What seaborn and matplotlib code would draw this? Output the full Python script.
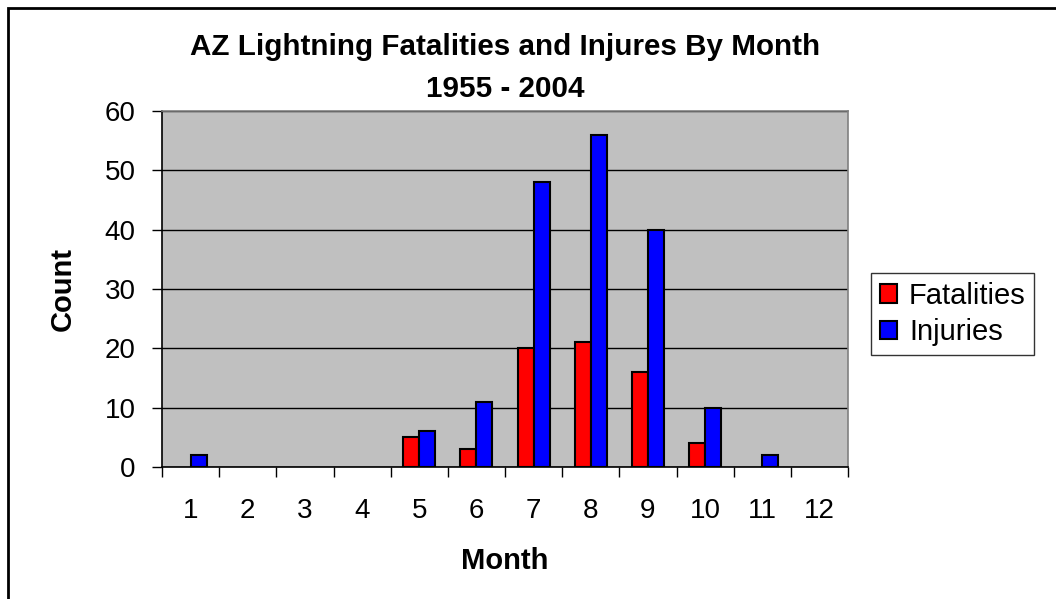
import pandas as pd
import seaborn as sns
import matplotlib.pyplot as plt
from matplotlib.patches import Rectangle

months = [str(m) for m in range(1, 13)]
fatalities = [0, 0, 0, 0, 5, 3, 20, 21, 16, 4, 0, 0]
injuries = [2, 0, 0, 0, 6, 11, 48, 56, 40, 10, 2, 0]

df = pd.concat([
    pd.DataFrame({'Month': months, 'Count': fatalities, 'kind': 'Fatalities'}),
    pd.DataFrame({'Month': months, 'Count': injuries, 'kind': 'Injuries'}),
])

sns.set_style("white")
plt.rcParams['font.family'] = ['Liberation Sans', 'DejaVu Sans']
plt.rcParams['text.color'] = 'black'
plt.rcParams['axes.labelcolor'] = 'black'
plt.rcParams['xtick.color'] = 'black'
plt.rcParams['ytick.color'] = 'black'

fig = plt.figure(figsize=(10.56, 5.99), dpi=100)
ax = fig.add_axes([162 / 1056, 1 - 467 / 599, 686 / 1056, 356 / 599])
ax.set_facecolor('#C0C0C0')

sns.barplot(data=df, x='Month', y='Count', hue='kind', order=months,
            palette=['#FF0000', '#0000FF'], width=0.56, edgecolor='black',
            linewidth=1.5, saturation=1, ax=ax, zorder=3)

# zero-height bars should not leave an outline on the axis
for c in ax.containers:
    for bar in c:
        if bar.get_height() == 0:
            bar.set_visible(False)

ax.set_xlim(-0.5, 11.5)
ax.set_ylim(0, 60)
ax.set_yticks(range(0, 61, 10))
ax.yaxis.grid(True, color='black', linewidth=1, zorder=0)
ax.set_axisbelow(True)

ax.set_xticks([i - 0.5 for i in range(13)], minor=True)
ax.tick_params(axis='x', which='major', length=0, pad=22, labelsize=20)
ax.tick_params(axis='x', which='minor', length=7, width=1, color='black',
               direction='out', bottom=True)
ax.tick_params(axis='y', length=7, width=1, color='black', direction='out',
               left=True, pad=12, labelsize=20)

for s in ['left', 'bottom']:
    ax.spines[s].set_color('black')
    ax.spines[s].set_linewidth(1.2)
for s in ['top', 'right']:
    ax.spines[s].set_color('#808080')
    ax.spines[s].set_linewidth(1.2)

ax.set_xlabel('Month', fontsize=21, fontweight='bold', labelpad=17)
ax.set_ylabel('Count', fontsize=21, fontweight='bold', labelpad=20)
ax.set_title('AZ Lightning Fatalities and Injures By Month\n1955 - 2004',
             fontsize=21.3, fontweight='bold', pad=10, linespacing=1.62)

leg = ax.legend(loc='center left', bbox_to_anchor=(871 / 1056, 1 - 314 / 599),
                bbox_transform=fig.transFigure, fontsize=21, frameon=True,
                fancybox=False, edgecolor='black', handlelength=0.6,
                handleheight=0.6, handletextpad=0.4, borderpad=0.3,
                labelspacing=0.3, borderaxespad=0)
leg.get_frame().set_linewidth(1)

fig.patches.append(Rectangle((8 / 1056, -0.1), 1.2, 1 - 8 / 599 + 0.1,
                             transform=fig.transFigure, fill=False,
                             edgecolor='black', linewidth=2))

plt.savefig('out.png', dpi=100)
